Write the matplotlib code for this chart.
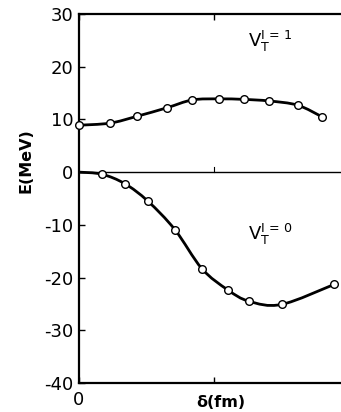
import numpy as np
import matplotlib
matplotlib.use("Agg")
import matplotlib.pyplot as plt
from matplotlib.path import Path
from matplotlib.patches import PathPatch

# Data
delta_i1 = [0.00, 0.23, 0.43, 0.65, 0.84, 1.04, 1.22, 1.41, 1.62, 1.80]
v_i1 = [8.9, 9.3, 10.6, 12.2, 13.7, 13.9, 13.8, 13.5, 12.7, 10.5]

delta_i0 = [0.17, 0.34, 0.51, 0.71, 0.91, 1.10, 1.26, 1.50, 1.89]
v_i0 = [-0.4, -2.2, -5.5, -10.9, -18.3, -22.3, -24.5, -25.1, -21.3]
curve_i0_start = (0.0, 0.0)

yticks = [30, 20, 10, 0, -10, -20, -30, -40]
xticks = [0, 1]
xticklabels = ["0", ""]


def smooth_path(xs, ys):
    P = np.column_stack([xs, ys]).astype(float)
    n = len(P)
    verts = [P[0]]
    codes = [Path.MOVETO]
    for i in range(n - 1):
        p0 = P[i - 1] if i > 0 else P[i]
        p1 = P[i]
        p2 = P[i + 1]
        p3 = P[i + 2] if i + 2 < n else P[i + 1]
        c1 = p1 + (p2 - p0) / 6.0
        c2 = p2 - (p3 - p1) / 6.0
        verts += [c1, c2, p2]
        codes += [Path.CURVE4] * 3
    return Path(verts, codes)


fig = plt.figure(figsize=(3.41, 4.12), dpi=100)
ax = fig.add_axes([79 / 341, 29 / 412, 262 / 341, 369 / 412])
ax.set_xlim(0, 262 / 135)
ax.set_ylim(-40, 30)

# zero line
ax.axhline(0, color="black", lw=1.0, zorder=1)
ax.plot([1, 1], [0, 0.9], color="black", lw=0.8)

# curves
p1 = smooth_path(delta_i1, v_i1)
ax.add_patch(PathPatch(p1, fill=False, lw=2.0, edgecolor="black", zorder=2))
xs0 = [curve_i0_start[0]] + delta_i0
ys0 = [curve_i0_start[1]] + v_i0
p0 = smooth_path(xs0, ys0)
ax.add_patch(PathPatch(p0, fill=False, lw=2.0, edgecolor="black", zorder=2))

ax.plot(delta_i1, v_i1, "o", ms=5.5, mfc="white", mec="black", mew=1.0, zorder=3, clip_on=False)
ax.plot(delta_i0, v_i0, "o", ms=5.5, mfc="white", mec="black", mew=1.0, zorder=3, clip_on=False)

for s in ["left", "bottom", "top"]:
    ax.spines[s].set_linewidth(1.6)
ax.spines["right"].set_visible(False)

ax.set_yticks(yticks)
ax.set_yticklabels([str(t) for t in yticks])
ax.set_xticks(xticks)
ax.set_xticklabels(xticklabels)
ax.tick_params(axis="y", direction="in", length=4, width=1, labelsize=13, pad=4)
ax.tick_params(axis="x", direction="in", length=4, width=1, labelsize=13, pad=6,
               top=True)

ax.set_ylabel("E(MeV)", fontsize=11.5, fontweight="bold")
ax.yaxis.set_label_coords((33 - 79) / 262, (383 - 161) / 369)
ax.set_xlabel("δ(fm)", fontsize=11.5, fontweight="bold")
ax.xaxis.set_label_coords((221 - 79) / 262, (383 - 395) / 369)

ax.text(1.25, 23.7, r"$\mathrm{V}_{\mathrm{T}}^{\mathrm{I}\,=\,1}$", fontsize=13)
ax.text(1.25, -12.9, r"$\mathrm{V}_{\mathrm{T}}^{\mathrm{I}\,=\,0}$", fontsize=13)

fig.savefig("out.png", dpi=100)
